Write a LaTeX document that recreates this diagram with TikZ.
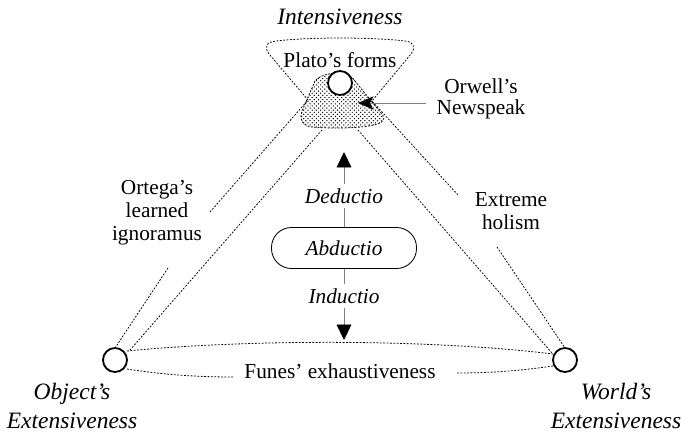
\documentclass[tikz,border=0pt]{standalone}
\usepackage{fontspec}
\setmainfont{Liberation Serif}
\usepackage{tikz}
\usetikzlibrary{arrows.meta,patterns}

\tikzset{
  dotline/.style={line width=0.55pt,dash pattern=on 1.3pt off 1.1pt},
  vertex/.style={circle,draw,line width=1.3pt,fill=white,minimum size=0.6cm,inner sep=0pt},
  txt/.style={font=\fontsize{15.15pt}{16.4pt}\selectfont,align=center,inner sep=3pt},
  reasoning/.style={txt,font=\fontsize{15.15pt}{16.4pt}\selectfont\itshape},
  corner/.style={font=\fontsize{16.7pt}{20pt}\selectfont\itshape,align=center,inner sep=3pt},
  pill/.style={draw,line width=0.6pt,rounded corners=0.5cm,minimum width=3.625cm,minimum height=1.025cm},
  infer/.style={draw=gray,line width=0.6pt,-{Triangle[length=11pt,width=10.5pt,color=black]}},
  pointer/.style={draw=gray,line width=0.6pt,-{Stealth[length=11pt,width=9.5pt,inset=2.5pt,color=black]}}
}

\begin{document}
\begin{tikzpicture}[x=0.025cm,y=-0.025cm]
      \useasboundingbox (0,0) rectangle (683,435);
      \draw[dotline,pattern=crosshatch dots,pattern color=black]
      (340,73) .. controls (330,73) and (320,75) .. (315,81) -- (302,111)
      .. controls (299,120) and (303,126) .. (312,127)
      .. controls (335,129) and (360,128) .. (374,125)
      .. controls (384,123) and (386,118) .. (381,113) -- (355,81)
      .. controls (352,76) and (346,73) .. (340,73) -- cycle;
      \draw[dotline] (210,212) -- (308,100) -- (269,54)
      .. controls (264,47) and (266,42) .. (276,41)
      .. controls (310,37) and (370,37) .. (405,41)
      .. controls (414,42) and (416,47) .. (411,54) -- (372,101) -- (458,195);
      \draw[dotline] (168,268) -- (115,348);
      \draw[dotline] (497,247) -- (565,348);
      \draw[dotline] (322,130) -- (130,350);
      \draw[dotline] (358,130) -- (552,353);
      \draw[dotline] (127,351) .. controls (250,339) and (430,339) .. (553,354);
      \draw[dotline] (127,369) .. controls (165,375) and (200,377) .. (233,377);
      \draw[dotline] (457,373) .. controls (495,373) and (525,370) .. (553,366);
      \node[vertex] (plato) at (340,83) {};
      \node[vertex] (object) at (115,360) {};
      \node[vertex] (world) at (565,360) {};
      \node[corner] (intens) at (340,17) {Intensiveness};
      \node[corner] (objext) at (72,406) {Object's\\Extensiveness};
      \node[corner] (worldext) at (616,406) {World's\\Extensiveness};
      \node[txt] (forms) at (340,60) {Plato's forms};
      \node[txt,font=\fontsize{15.15pt}{14.5pt}\selectfont] (orwell) at (481,99) {Orwell's\\Newspeak};
      \node[txt] (ortega) at (157,213) {Ortega's\\learned\\ignoramus};
      \node[txt] (holism) at (511,211) {Extreme\\holism};
      \node[txt] (funes) at (340,371) {Funes' exhaustiveness};
      \node[pill,reasoning] (abd) at (344,248) {Abductio};
      \node[reasoning] (ded) at (344,196) {Deductio};
      \node[reasoning] (ind) at (344,296) {Inductio};
      \coordinate (dedtip) at (344,152);
      \coordinate (indtip) at (344,340);
      \coordinate (orwtail) at (426,103);
      \coordinate (orwtip) at (358,103);
      \draw[gray,line width=0.6pt] (abd) -- (ded);
      \draw[infer] (ded) -- (dedtip);
      \draw[gray,line width=0.6pt] (abd) -- (ind);
      \draw[infer] (ind) -- (indtip);
      \draw[pointer] (orwtail) -- (orwtip);
    \end{tikzpicture}
\end{document}
